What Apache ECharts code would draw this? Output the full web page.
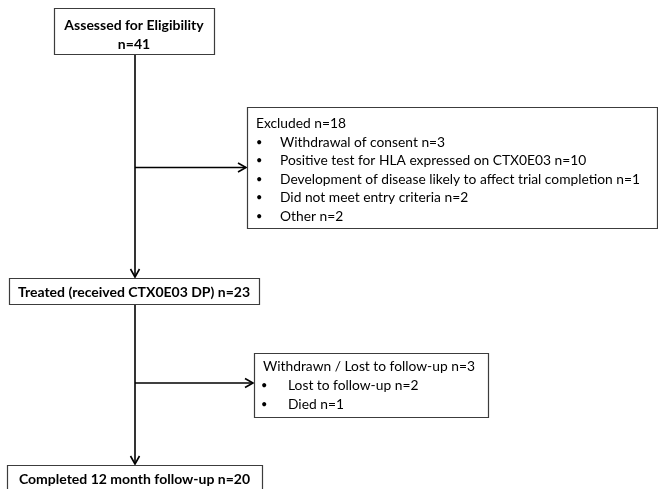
<!DOCTYPE html>
<html><head><meta charset="utf-8">
<script src="https://cdn.jsdelivr.net/npm/echarts@6/dist/echarts.min.js"></script>
<style>html,body{margin:0;padding:0;background:#fff}#c{width:658px;height:489px}</style>
</head><body><div id="c"></div>
<script>
// ---- data ----
const stageNames = ['Assessed for Eligibility', 'Treated (received CTX0E03 DP)', 'Completed 12 month follow-up'];
const stageCounts = [41, 23, 20];
const exitTitles = ['Excluded', 'Withdrawn / Lost to follow-up'];
const exitCounts = [18, 3];
const excludedReasons = ['Withdrawal of consent', 'Positive test for HLA expressed on CTX0E03', 'Development of disease likely to affect trial completion', 'Did not meet entry criteria', 'Other'];
const excludedCounts = [3, 10, 1, 2, 2];
const withdrawnReasons = ['Lost to follow-up', 'Died'];
const withdrawnCounts = [2, 1];

// ---- layout (canvas units) ----
const stageBoxes = [[54, 8, 214, 54], [9, 278, 259, 304], [7, 465, 262, 505]];
const exitBoxes = [[247, 107, 657, 228], [254, 353, 488, 417]];
const FONT = 'Lato, "Open Sans", sans-serif';

const stageLines = [
  [stageNames[0], 'n=' + stageCounts[0]],
  [stageNames[1] + ' n=' + stageCounts[1]],
  [stageNames[2] + ' n=' + stageCounts[2]]
];
const exitReasonLines = [
  excludedReasons.map((r, i) => r + ' n=' + excludedCounts[i]),
  withdrawnReasons.map((r, i) => r + ' n=' + withdrawnCounts[i])
];

const boxData = [];
stageBoxes.forEach((b, i) => boxData.push({ value: b, kind: 'stage', idx: i }));
exitBoxes.forEach((b, i) => boxData.push({ value: b, kind: 'exit', idx: i }));

// connectors derived from box layout
const trunkX = (stageBoxes[0][0] + stageBoxes[0][2]) / 2 + 1;
const connectors = [];
for (let s = 0; s < stageBoxes.length - 1; s++) {
  connectors.push([trunkX, stageBoxes[s][3], trunkX, stageBoxes[s + 1][1] - 1]);
  const eb = exitBoxes[s];
  const yb = s === 0 ? (eb[1] + eb[3]) / 2 : eb[1] + 30;
  connectors.push([trunkX, yb, eb[0] - 1, yb]);
}

const chart = echarts.init(document.getElementById('c'), null, { renderer: 'canvas' });
chart.setOption({
  backgroundColor: '#fff',
  animation: false,
  grid: { left: 0, right: 0, top: 0, bottom: 0 },
  xAxis: { type: 'value', min: 0, max: 658, show: false },
  yAxis: { type: 'value', min: 0, max: 489, inverse: true, show: false },
  series: [
    {
      type: 'custom', coordinateSystem: 'cartesian2d',
      data: connectors,
      renderItem: function (params, api) {
        const a = api.coord([api.value(0), api.value(1)]);
        const b = api.coord([api.value(2), api.value(3)]);
        const dx = b[0] - a[0], dy = b[1] - a[1];
        const len = Math.sqrt(dx * dx + dy * dy);
        const ux = dx / len, uy = dy / len;
        const L = 8, Wd = 4.5;
        const p1 = [b[0] - ux * L - uy * Wd, b[1] - uy * L + ux * Wd];
        const p2 = [b[0] - ux * L + uy * Wd, b[1] - uy * L - ux * Wd];
        return {
          type: 'group',
          children: [
            { type: 'line', shape: { x1: a[0], y1: a[1], x2: b[0], y2: b[1] }, style: { stroke: '#000', lineWidth: 1.6 } },
            { type: 'polyline', shape: { points: [p1, b, p2] }, style: { stroke: '#000', lineWidth: 1.6, fill: null } }
          ]
        };
      }
    },
    {
      type: 'custom', coordinateSystem: 'cartesian2d',
      data: boxData,
      renderItem: function (params, api) {
        const item = boxData[params.dataIndex];
        const p1 = api.coord([api.value(0), api.value(1)]);
        const p2 = api.coord([api.value(2), api.value(3)]);
        const children = [{
          type: 'rect',
          shape: { x: p1[0] + 0.5, y: p1[1] + 0.5, width: p2[0] - p1[0], height: p2[1] - p1[1] },
          style: { fill: '#fff', stroke: '#3c3c3c', lineWidth: 1.2 }
        }];
        if (item.kind === 'stage') {
          const lines = stageLines[item.idx];
          const cx = (p1[0] + p2[0]) / 2;
          const top = p1[1];
          const y0 = lines.length === 2 ? top + 17 : top + 14.5;
          lines.forEach((t, k) => children.push({
            type: 'text',
            style: { text: t, x: cx, y: y0 + k * 19, align: 'center', verticalAlign: 'middle', font: 'bold 14px ' + FONT, fill: '#000' }
          }));
        } else {
          const i = item.idx;
          const x = p1[0], top = p1[1];
          const lh = 18.6;
          const y0 = top + (i === 0 ? 16.5 : 14);
          const bulletDx = i === 0 ? 9 : 7;
          const textDx = i === 0 ? 33 : 34;
          children.push({
            type: 'text',
            style: { text: exitTitles[i] + ' n=' + exitCounts[i], x: x + 9, y: y0, verticalAlign: 'middle', font: '13.8px ' + FONT, fill: '#000' }
          });
          exitReasonLines[i].forEach((t, k) => {
            const y = y0 + (k + 1) * lh;
            children.push({ type: 'text', style: { text: '\u2022', x: x + bulletDx, y: y, verticalAlign: 'middle', font: '11px ' + FONT, fill: '#000' } });
            children.push({ type: 'text', style: { text: t, x: x + textDx, y: y, verticalAlign: 'middle', font: '13.8px ' + FONT, fill: '#000' } });
          });
        }
        return { type: 'group', children: children };
      }
    }
  ]
});
</script></body></html>
